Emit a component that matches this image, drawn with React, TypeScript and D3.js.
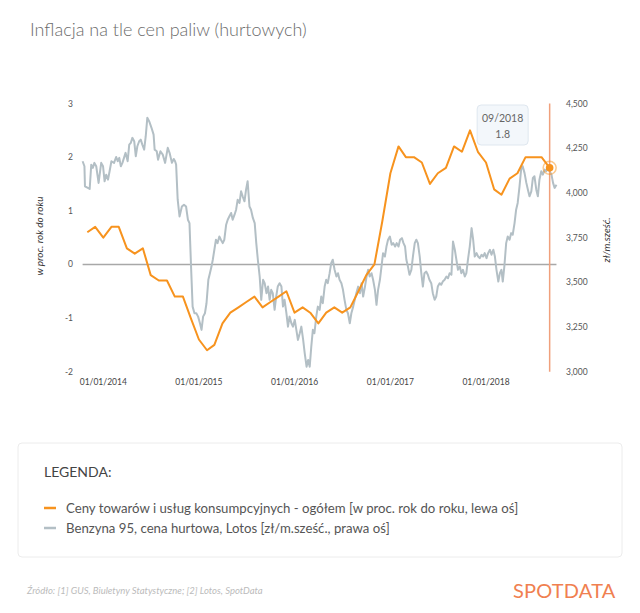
import React from "react";
import * as d3 from "d3";

// ---- DATA ----
const cpiStart = "2013-11-01";
const cpiValues: number[] = [
  0.6, 0.7,
  0.5, 0.7, 0.7, 0.3, 0.2, 0.3, -0.2, -0.3, -0.3, -0.6, -0.6, -1.0,
  -1.4, -1.6, -1.5, -1.1, -0.9, -0.8, -0.7, -0.6, -0.8, -0.7, -0.6, -0.5,
  -0.9, -0.8, -0.9, -1.1, -0.9, -0.8, -0.9, -0.8, -0.5, -0.2, 0.0, 0.8,
  1.7, 2.2, 2.0, 2.0, 1.9, 1.5, 1.7, 1.8, 2.2, 2.1, 2.5, 2.1,
  1.9, 1.4, 1.3, 1.6, 1.7, 2.0, 2.0, 2.0, 1.8,
];

const fuelPrice: [string, number][] = [
  ["2013-10-14", 4177], ["2013-10-21", 4149], ["2013-10-23", 4037], ["2013-11-03", 4028],
  ["2013-11-10", 4022], ["2013-11-16", 4158], ["2013-11-22", 4140], ["2013-11-28", 4168],
  ["2013-12-05", 4149], ["2013-12-14", 4056], ["2013-12-24", 4168], ["2013-12-31", 4149],
  ["2014-01-06", 4065], ["2014-01-12", 4102], ["2014-01-19", 4074], ["2014-01-25", 4121],
  ["2014-02-01", 4177], ["2014-02-11", 4168], ["2014-02-19", 4201], ["2014-02-25", 4177],
  ["2014-03-03", 4196], ["2014-03-09", 4149], ["2014-03-15", 4168], ["2014-03-21", 4196],
  ["2014-03-27", 4224], ["2014-04-04", 4177], ["2014-04-10", 4270], ["2014-04-16", 4280],
  ["2014-04-22", 4308], ["2014-04-29", 4289], ["2014-05-05", 4205], ["2014-05-11", 4261],
  ["2014-05-18", 4289], ["2014-05-24", 4298], ["2014-05-30", 4270], ["2014-06-06", 4242],
  ["2014-06-12", 4317], ["2014-06-18", 4420], ["2014-06-25", 4401], ["2014-07-04", 4364],
  ["2014-07-12", 4326], ["2014-07-16", 4242], ["2014-07-24", 4233], ["2014-07-29", 4186],
  ["2014-08-07", 4233], ["2014-08-16", 4214], ["2014-08-25", 4168], ["2014-09-04", 4252],
  ["2014-09-11", 4224], ["2014-09-20", 4168], ["2014-09-27", 4190], ["2014-10-02", 4177],
  ["2014-10-06", 4158], ["2014-10-12", 3962], ["2014-10-19", 3868], ["2014-10-28", 3924],
  ["2014-11-05", 3934], ["2014-11-13", 3924], ["2014-11-20", 3850], ["2014-11-26", 3831],
  ["2014-12-02", 3588], ["2014-12-08", 3364], ["2014-12-15", 3327], ["2014-12-22", 3327],
  ["2014-12-29", 3308], ["2015-01-05", 3271], ["2015-01-11", 3234], ["2015-01-17", 3308],
  ["2015-01-24", 3327], ["2015-01-30", 3383], ["2015-02-06", 3514], ["2015-02-12", 3551],
  ["2015-02-18", 3588], ["2015-02-23", 3626], ["2015-03-01", 3682], ["2015-03-07", 3738],
  ["2015-03-13", 3719], ["2015-03-20", 3756], ["2015-03-26", 3738], ["2015-04-02", 3719],
  ["2015-04-08", 3738], ["2015-04-15", 3822], ["2015-04-21", 3850], ["2015-04-27", 3868],
  ["2015-05-04", 3888], ["2015-05-10", 3850], ["2015-05-17", 3878], ["2015-05-23", 3906],
  ["2015-05-29", 3962], ["2015-06-05", 3944], ["2015-06-11", 4009], ["2015-06-17", 3981],
  ["2015-06-24", 3953], ["2015-06-30", 4018], ["2015-07-06", 4065], ["2015-07-13", 3924],
  ["2015-07-19", 3906], ["2015-07-26", 3860], ["2015-08-02", 3831], ["2015-08-08", 3719],
  ["2015-08-14", 3626], ["2015-08-21", 3532], ["2015-08-27", 3402], ["2015-09-03", 3514],
  ["2015-09-09", 3495], ["2015-09-16", 3439], ["2015-09-22", 3476], ["2015-09-28", 3402],
  ["2015-10-04", 3458], ["2015-10-10", 3439], ["2015-10-17", 3346], ["2015-10-23", 3420],
  ["2015-10-29", 3476], ["2015-11-05", 3495], ["2015-11-12", 3476], ["2015-11-18", 3364],
  ["2015-11-24", 3402], ["2015-12-01", 3327], ["2015-12-07", 3252], ["2015-12-13", 3308],
  ["2015-12-20", 3271], ["2015-12-26", 3252], ["2016-01-02", 3290], ["2016-01-08", 3234],
  ["2016-01-14", 3178], ["2016-01-21", 3215], ["2016-01-27", 3252], ["2016-02-03", 3178],
  ["2016-02-09", 3103], ["2016-02-16", 3028], ["2016-02-22", 3066], ["2016-02-28", 3028],
  ["2016-03-05", 3140], ["2016-03-11", 3234], ["2016-03-17", 3215], ["2016-03-24", 3308],
  ["2016-03-30", 3364], ["2016-04-06", 3346], ["2016-04-12", 3420], ["2016-04-18", 3383],
  ["2016-04-25", 3476], ["2016-05-01", 3514], ["2016-05-07", 3495], ["2016-05-14", 3551],
  ["2016-05-20", 3607], ["2016-05-26", 3626], ["2016-06-02", 3570], ["2016-06-09", 3532],
  ["2016-06-15", 3551], ["2016-06-21", 3514], ["2016-06-28", 3495], ["2016-07-04", 3458],
  ["2016-07-10", 3402], ["2016-07-17", 3346], ["2016-07-23", 3327], ["2016-07-30", 3271],
  ["2016-08-05", 3327], ["2016-08-12", 3364], ["2016-08-18", 3402], ["2016-08-24", 3439],
  ["2016-08-31", 3476], ["2016-09-07", 3439], ["2016-09-13", 3495], ["2016-09-19", 3420],
  ["2016-09-26", 3476], ["2016-10-02", 3532], ["2016-10-08", 3570], ["2016-10-14", 3532],
  ["2016-10-21", 3551], ["2016-10-27", 3514], ["2016-11-03", 3458], ["2016-11-09", 3374],
  ["2016-11-15", 3458], ["2016-11-22", 3514], ["2016-11-28", 3588], ["2016-12-04", 3663],
  ["2016-12-11", 3644], ["2016-12-17", 3700], ["2016-12-23", 3738], ["2016-12-30", 3756],
  ["2017-01-06", 3710], ["2017-01-12", 3719], ["2017-01-19", 3700], ["2017-01-25", 3719],
  ["2017-02-01", 3700], ["2017-02-07", 3738], ["2017-02-14", 3747], ["2017-02-20", 3719],
  ["2017-02-26", 3700], ["2017-03-03", 3626], ["2017-03-09", 3588], ["2017-03-15", 3542],
  ["2017-03-22", 3570], ["2017-03-28", 3644], ["2017-04-04", 3719], ["2017-04-10", 3738],
  ["2017-04-16", 3719], ["2017-04-23", 3644], ["2017-04-29", 3551], ["2017-05-05", 3476],
  ["2017-05-11", 3551], ["2017-05-18", 3560], ["2017-05-24", 3542], ["2017-05-30", 3514],
  ["2017-06-06", 3495], ["2017-06-12", 3439], ["2017-06-19", 3402], ["2017-06-25", 3420],
  ["2017-07-01", 3476], ["2017-07-08", 3495], ["2017-07-14", 3486], ["2017-07-20", 3504],
  ["2017-07-27", 3514], ["2017-08-03", 3532], ["2017-08-09", 3523], ["2017-08-15", 3551],
  ["2017-08-22", 3542], ["2017-08-28", 3728], ["2017-09-04", 3682], ["2017-09-10", 3626],
  ["2017-09-16", 3570], ["2017-09-23", 3588], ["2017-09-29", 3551], ["2017-10-05", 3570],
  ["2017-10-12", 3532], ["2017-10-18", 3551], ["2017-10-24", 3626], ["2017-10-31", 3700],
  ["2017-11-07", 3803], ["2017-11-13", 3738], ["2017-11-19", 3644], ["2017-11-26", 3663],
  ["2017-12-02", 3644], ["2017-12-08", 3635], ["2017-12-15", 3654], ["2017-12-21", 3644],
  ["2017-12-27", 3663], ["2018-01-03", 3635], ["2018-01-09", 3663], ["2018-01-16", 3682],
  ["2018-01-22", 3654], ["2018-01-29", 3682], ["2018-02-04", 3644], ["2018-02-10", 3570],
  ["2018-02-17", 3504], ["2018-02-23", 3551], ["2018-03-01", 3570], ["2018-03-06", 3504],
  ["2018-03-12", 3588], ["2018-03-19", 3719], ["2018-03-25", 3756], ["2018-04-01", 3738],
  ["2018-04-07", 3775], ["2018-04-13", 3766], ["2018-04-20", 3831], ["2018-04-26", 3906],
  ["2018-05-02", 3944], ["2018-05-09", 4037], ["2018-05-15", 4130], ["2018-05-21", 4149],
  ["2018-05-28", 4112], ["2018-06-04", 4056], ["2018-06-10", 4018], ["2018-06-16", 3981],
  ["2018-06-23", 4009], ["2018-06-29", 4084], ["2018-07-05", 4093], ["2018-07-12", 4018],
  ["2018-07-18", 3981], ["2018-07-24", 4074], ["2018-07-31", 4121], ["2018-08-06", 4102],
  ["2018-08-13", 4130], ["2018-08-19", 4121], ["2018-08-25", 4149], ["2018-09-01", 4121],
  ["2018-09-08", 4102], ["2018-09-14", 4056], ["2018-09-20", 4028], ["2018-09-27", 4046],
];

const xTickDates = ["2014-01-01", "2015-01-01", "2016-01-01", "2017-01-01", "2018-01-01"];
const leftTicks = [3, 2, 1, 0, -1, -2];
const rightTicks = [4500, 4250, 4000, 3750, 3500, 3250, 3000];
const hoverMonth = "2018-09-01";
const hoverLabel = "09/2018";
const hoverValue = 1.8;

const titleText = "Inflacja na tle cen paliw (hurtowych)";
const leftAxisTitle = "w proc. rok do roku";
const rightAxisTitle = "zł/m.sześć.";
const legendTitle = "LEGENDA:";
const legendItems = [
  "Ceny towarów i usług konsumpcyjnych - ogółem [w proc. rok do roku, lewa oś]",
  "Benzyna 95, cena hurtowa, Lotos [zł/m.sześć., prawa oś]",
];
const sourceText = "Źródło: [1] GUS, Biuletyny Statystyczne; [2] Lotos, SpotData";
const brandText = "SPOTDATA";

// ---- STYLE ----
const ORANGE = "#f7931e";
const GREY = "#b3bfc5";
const FONT = "Lato, 'Open Sans', sans-serif";

const parse = d3.timeParse("%Y-%m-%d");
const fmtX = d3.timeFormat("%d/%m/%Y");
const fmtRight = d3.format(",");

export default function App() {
  const W = 640, H = 613;
  const top = 103.5, bottom = 371.7;

  const x = d3.scaleTime()
    .domain([parse("2014-01-01")!, parse("2018-01-01")!])
    .range([103.3, 486]);
  const yL = d3.scaleLinear().domain([-2, 3]).range([bottom, top]);
  const yR = d3.scaleLinear().domain([3000, 4500]).range([bottom, top]);

  const startDate = parse(cpiStart)!;
  const cpi = cpiValues.map((v, i) => ({ date: d3.timeMonth.offset(startDate, i), v }));
  const fuel = fuelPrice.map(([d, p]) => ({ date: parse(d)!, p }));

  const cpiLine = d3.line<{ date: Date; v: number }>()
    .x((d) => x(d.date)).y((d) => yL(d.v));
  const fuelLine = d3.line<{ date: Date; p: number }>()
    .x((d) => x(d.date)).y((d) => yR(d.p));

  const xMin = x(fuel[0].date);
  const xMax = x(fuel[fuel.length - 1].date);
  const hx = x(parse(hoverMonth)!);
  const hy = yL(hoverValue);

  const tipW = 51, tipH = 40;
  const tipX = hx - 47;
  const tipY = 105;

  return (
    <svg width={W} height={H} style={{ position: "absolute", left: 0, top: 0, background: "#fff" }}
      fontFamily={FONT}>
      <text x={30} y={36} fontSize={18} fontWeight={300} fill="#6b6b6b">{titleText}</text>

      {/* left axis labels */}
      {leftTicks.map((t) => (
        <text key={"l" + t} x={73} y={yL(t) + 3} fontSize={8.5} fill="#555" textAnchor="end">{t}</text>
      ))}
      {/* right axis labels */}
      {rightTicks.map((t) => (
        <text key={"r" + t} x={566} y={yR(t) + 3} fontSize={8.5} fill="#555">{fmtRight(t)}</text>
      ))}
      {/* x labels */}
      {xTickDates.map((d) => (
        <text key={d} x={x(parse(d)!)} y={385} fontSize={8.5} fill="#444" textAnchor="middle">{fmtX(parse(d)!)}</text>
      ))}

      <text transform={`translate(43,${236}) rotate(-90)`} fontSize={10} fontStyle="italic" fill="#333"
        textAnchor="middle">{leftAxisTitle}</text>
      <text transform={`translate(610,${240}) rotate(-90)`} fontSize={10} fontStyle="italic" fill="#333"
        textAnchor="middle">{rightAxisTitle}</text>

      {/* zero line */}
      <line x1={xMin} x2={xMax} y1={yL(0)} y2={yL(0)} stroke="#a8a8a8" strokeWidth={1.5} />

      <path d={fuelLine(fuel) || ""} fill="none" stroke={GREY} strokeWidth={2} strokeLinejoin="round" />
      <path d={cpiLine(cpi) || ""} fill="none" stroke={ORANGE} strokeWidth={2} strokeLinejoin="round" />

      {/* hover line and marker */}
      <line x1={hx} x2={hx} y1={top} y2={bottom} stroke="#f0a07c" strokeWidth={1.5} />
      <circle cx={hx} cy={hy} r={6.5} fill="none" stroke={ORANGE} strokeOpacity={0.5} strokeWidth={1.5} />
      <circle cx={hx} cy={hy} r={3.8} fill={ORANGE} />

      {/* tooltip */}
      <rect x={tipX - tipW / 2} y={tipY} width={tipW} height={tipH} rx={4} fill="#f3f7fb" stroke="#dfe7ef" />
      <text x={tipX} y={tipY + 17} fontSize={10.5} fill="#666" textAnchor="middle">{hoverLabel}</text>
      <text x={tipX} y={tipY + 33} fontSize={10.5} fill="#666" textAnchor="middle">{hoverValue}</text>

      {/* legend */}
      <rect x={18} y={443} width={604} height={114} rx={4} fill="#fff" stroke="#ececec" />
      <text x={44} y={477} fontSize={14} fill="#444">{legendTitle}</text>
      {legendItems.map((t, i) => (
        <g key={t}>
          <line x1={44} x2={56} y1={508 + i * 20} y2={508 + i * 20} stroke={i === 0 ? ORANGE : GREY} strokeWidth={2.5} />
          <text x={66} y={512.5 + i * 20} fontSize={13.2} fill="#555">{t}</text>
        </g>
      ))}

      <text x={27} y={594} fontSize={9.5} fontStyle="italic" fill="#bbb">{sourceText}</text>
      <text x={513} y={598} fontSize={20} fill="#f08050" letterSpacing={0.2}>{brandText}</text>
    </svg>
  );
}
